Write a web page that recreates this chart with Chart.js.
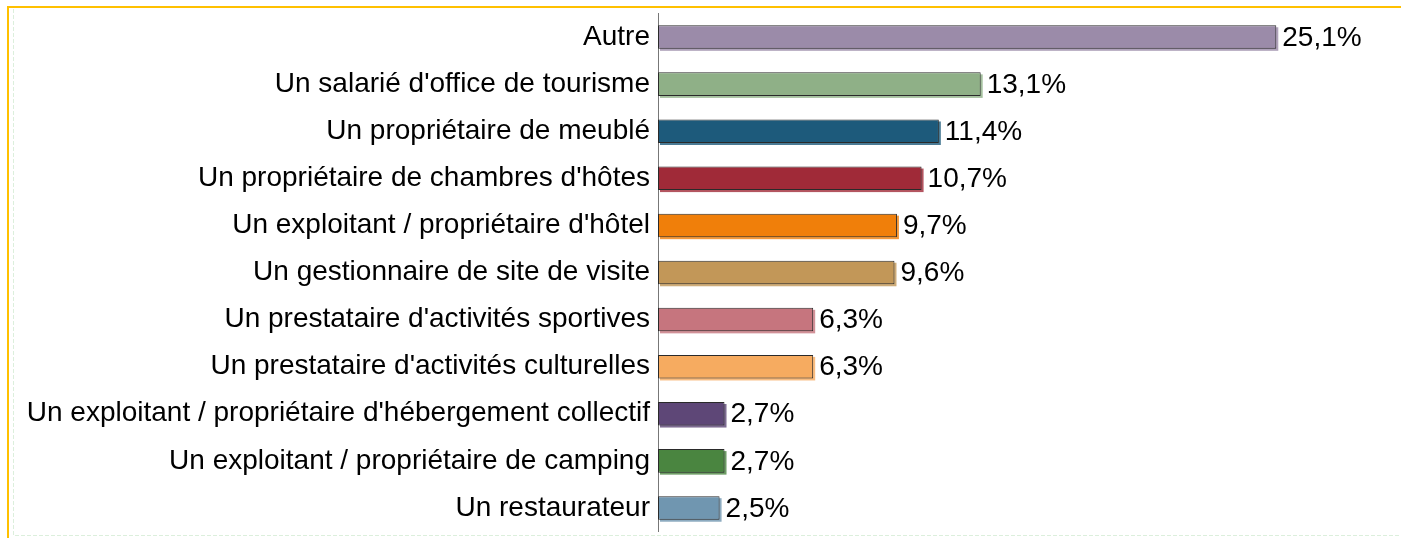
<!DOCTYPE html>
<html>
<head>
<meta charset="utf-8">
<script src="https://cdn.jsdelivr.net/npm/chart.js@4/dist/chart.umd.min.js"></script>
<style>
  html, body { margin: 0; padding: 0; background: #fff; }
  #wrap { width: 1401px; height: 538px; position: relative; }
</style>
</head>
<body>
<div id="wrap"><canvas id="graf"></canvas></div>
<script>
// donnees
const categories = [
  "Autre",
  "Un salarié d'office de tourisme",
  "Un propriétaire de meublé",
  "Un propriétaire de chambres d'hôtes",
  "Un exploitant / propriétaire d'hôtel",
  "Un gestionnaire de site de visite",
  "Un prestataire d'activités sportives",
  "Un prestataire d'activités culturelles",
  "Un exploitant / propriétaire d'hébergement collectif",
  "Un exploitant / propriétaire de camping",
  "Un restaurateur"
];
const valeurs = [25.1, 13.1, 11.4, 10.7, 9.7, 9.6, 6.3, 6.3, 2.7, 2.7, 2.5];
const couleurs = [
  "#9b8ba9", "#8fb087", "#1d5a7b", "#a02a38", "#f07f0a", "#c29758",
  "#c6757e", "#f6ab60", "#5e4777", "#4a8540", "#7096b0"
];

const police = "'Liberation Sans', Arial, sans-serif";

// cadre orange + bordure pointillee
const cadre = {
  id: 'cadre',
  beforeDraw(chart) {
    const c = chart.ctx;
    c.save();
    c.strokeStyle = '#dcefdc';
    c.lineWidth = 1;
    c.setLineDash([4, 2]);
    c.beginPath();
    c.moveTo(13.5, 9);
    c.lineTo(13.5, 535.5);
    c.lineTo(1401, 535.5);
    c.stroke();
    c.setLineDash([]);
    c.fillStyle = '#ffc000';
    c.fillRect(7, 6, 1394, 2);
    c.fillRect(7, 6, 2, 532);
    c.restore();
  }
};

// ombre des barres
const ombre = {
  id: 'ombre',
  beforeDatasetsDraw(chart) {
    const c = chart.ctx;
    const meta = chart.getDatasetMeta(0);
    c.save();
    meta.data.forEach((b, i) => {
      const p = b.getProps(['x', 'y', 'base', 'height'], true);
      c.fillStyle = couleurs[i];
      c.globalAlpha = 0.8;
      c.fillRect(p.base + 2, p.y - p.height / 2 + 2, p.x - p.base, p.height);
    });
    c.restore();
  }
};

// etiquettes de valeur
const etiquettes = {
  id: 'etiquettes',
  afterDatasetsDraw(chart) {
    const c = chart.ctx;
    const meta = chart.getDatasetMeta(0);
    c.save();
    c.font = '28px ' + police;
    c.fillStyle = '#000';
    c.textAlign = 'left';
    c.textBaseline = 'middle';
    meta.data.forEach((b, i) => {
      const txt = valeurs[i].toFixed(1).replace('.', ',') + '%';
      c.fillText(txt, b.x + 6, b.y + 1);
    });
    c.restore();
  }
};

let ctx = document.getElementById('graf').getContext('2d');
let graf = new Chart(ctx, {
  type: 'bar',
  data: {
    labels: categories,
    datasets: [{
      data: valeurs,
      backgroundColor: couleurs,
      borderColor: '#2a2a2a',
      borderWidth: 1,
      borderSkipped: false,
      barPercentage: 0.5,
      categoryPercentage: 1
    }]
  },
  options: {
    indexAxis: 'y',
    responsive: true,
    maintainAspectRatio: false,
    animation: false,
    layout: { padding: { top: 13.5, bottom: 6.5, right: 4, left: 0 } },
    plugins: {
      legend: { display: false },
      tooltip: { enabled: false }
    },
    scales: {
      x: {
        display: false,
        min: 0,
        max: 30
      },
      y: {
        afterFit(s) { s.width = 658; s.paddingTop = 0; s.paddingBottom = 0; },
        grid: { display: false, drawTicks: false },
        border: { display: true, color: '#777', width: 1 },
        ticks: {
          padding: 8,
          color: '#000',
          font: { family: police, size: 28 }
        }
      }
    }
  },
  plugins: [cadre, ombre, etiquettes]
});
</script>
</body>
</html>
